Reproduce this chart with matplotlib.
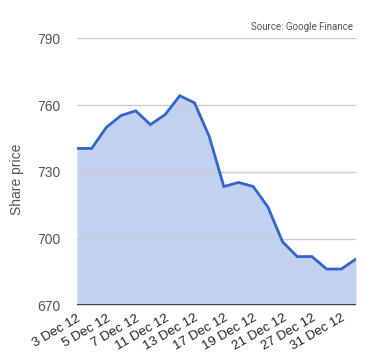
import matplotlib
matplotlib.use("Agg")
import matplotlib.pyplot as plt

plt.rcParams['font.family'] = ['Liberation Sans', 'DejaVu Sans']

dates = ["3 Dec 12", "4 Dec 12", "5 Dec 12", "6 Dec 12", "7 Dec 12",
         "10 Dec 12", "11 Dec 12", "12 Dec 12", "13 Dec 12", "14 Dec 12",
         "17 Dec 12", "18 Dec 12", "19 Dec 12", "20 Dec 12", "21 Dec 12",
         "26 Dec 12", "27 Dec 12", "28 Dec 12", "31 Dec 12", "2 Jan 13"]
prices = [740.5, 740.5, 750.0, 755.3, 757.4, 751.2, 755.7, 764.2, 761.0, 746.0,
          723.4, 725.2, 723.4, 714.2, 698.5, 691.9, 691.9, 686.3, 686.3, 690.8]
y_ticks = [670, 700, 730, 760, 790]

fig = plt.figure(figsize=(3.8, 3.6), dpi=100)
ax = fig.add_axes([77 / 380, 1 - 305.3 / 360, 279 / 380, 267 / 360])

x = list(range(len(dates)))
ax.fill_between(x, prices, 670, color="#c2d1f0", lw=0, zorder=1)
ax.plot(x, prices, color="#3366cc", lw=2, zorder=3, solid_joinstyle="miter")

ax.set_xlim(0, len(dates) - 1)
ax.set_ylim(670, 790)
ax.set_yticks(y_ticks)
ax.set_yticklabels([str(v) for v in y_ticks], color="#555555", fontsize=10)
for v in y_ticks[1:]:
    ax.axhline(v, color="#cccccc", lw=1, zorder=2)
ax.axhline(670, color="#333333", lw=1.3, zorder=4)

ax.set_xticks(x[::2])
ax.set_xticklabels(dates[::2], rotation=30, ha="right", va="top",
                   rotation_mode="anchor", color="#222222", fontsize=9.5)
ax.tick_params(length=0, pad=12)
ax.tick_params(axis="x", pad=5)

for s in ax.spines.values():
    s.set_visible(False)

fig.text(16.7 / 380, 1 - 179 / 360, "Share price", rotation=90, ha="center",
         va="center", color="#555555", fontsize=10)
fig.text(353 / 380, 1 - 27 / 360, "Source: Google Finance", ha="right",
         va="center", fontsize=7, color="#555555", family=["Roboto", "DejaVu Sans"])

fig.savefig("out.png", dpi=100)
